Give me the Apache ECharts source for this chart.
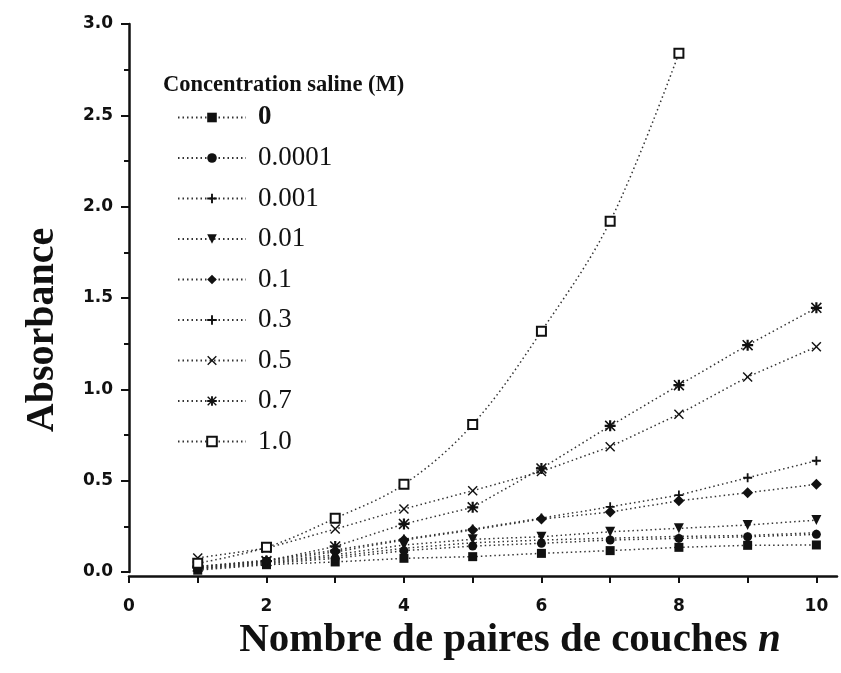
<!DOCTYPE html>
<html>
<head>
<meta charset="utf-8">
<script src="https://cdn.jsdelivr.net/npm/echarts@6/dist/echarts.min.js"></script>
<style>
  html, body { margin: 0; padding: 0; background: #fff; }
  #chart { width: 841px; height: 673px; }
</style>
</head>
<body>
<div id="chart"></div>
<script>
// Number of layer pairs
const layers = [1, 2, 3, 4, 5, 6, 7, 8, 9, 10];

// Salt concentration labels (M)
const concentrations = ['0', '0.0001', '0.001', '0.01', '0.1', '0.3', '0.5', '0.7', '1.0'];

// Absorbance for each salt concentration
const abs0      = [0.010, 0.040, 0.055, 0.075, 0.084, 0.102, 0.117, 0.135, 0.146, 0.148];
const abs00001  = [0.015, 0.045, 0.075, 0.117, 0.142, 0.157, 0.175, 0.184, 0.193, 0.206];
const abs0001   = [0.020, 0.050, 0.085, 0.130, 0.160, 0.175, 0.185, 0.195, 0.200, 0.215];
const abs001    = [0.020, 0.055, 0.095, 0.148, 0.179, 0.193, 0.220, 0.239, 0.257, 0.284];
const abs01     = [0.025, 0.060, 0.110, 0.175, 0.230, 0.290, 0.328, 0.390, 0.434, 0.480];
const abs03     = [0.030, 0.065, 0.120, 0.180, 0.235, 0.295, 0.357, 0.421, 0.516, 0.609];
const abs05     = [0.077, 0.130, 0.235, 0.345, 0.445, 0.550, 0.686, 0.864, 1.068, 1.233];
const abs07     = [0.030, 0.060, 0.140, 0.263, 0.354, 0.567, 0.800, 1.023, 1.242, 1.446];
const abs10     = [0.048, 0.135, 0.294, 0.480, 0.808, 1.318, 1.920, 2.840];

// Axis tick values
const xTickValues  = [0, 1, 2, 3, 4, 5, 6, 7, 8, 9, 10];
const xLabelValues = [0, 2, 4, 6, 8, 10];

// Marker shapes
const plusPath  = 'path://M4,0 H6 V4 H10 V6 H6 V10 H4 V6 H0 V4 H4 Z';
const crossPath = 'path://M0,1 L1,0 L5,4 L9,0 L10,1 L6,5 L10,9 L9,10 L5,6 L1,10 L0,9 L4,5 Z';
const starPath  = 'path://M4,0 H6 V4 H10 V6 H6 V10 H4 V6 H0 V4 H4 Z M0,1 L1,0 L5,4 L9,0 L10,1 L6,5 L10,9 L9,10 L5,6 L1,10 L0,9 L4,5 Z';

const seriesDefs = [
  { name: concentrations[0], data: abs0,     symbol: 'rect',     size: 9 },
  { name: concentrations[1], data: abs00001, symbol: 'circle',   size: 9 },
  { name: concentrations[2], data: abs0001,  symbol: plusPath,   size: 6 },
  { name: concentrations[3], data: abs001,   symbol: 'triangle', size: 10, rotate: 180 },
  { name: concentrations[4], data: abs01,    symbol: 'diamond',  size: 11 },
  { name: concentrations[5], data: abs03,    symbol: plusPath,   size: 9 },
  { name: concentrations[6], data: abs05,    symbol: crossPath,  size: 10 },
  { name: concentrations[7], data: abs07,    symbol: starPath,   size: 11 },
  { name: concentrations[8], data: abs10,    symbol: 'emptyRect', size: 9, smooth: true }
];

const ink = '#111';
const tickFont = 'DejaVu Sans';
const serif = '"Liberation Serif", "Times New Roman", serif';

const series = seriesDefs.map(d => ({
  name: d.name,
  type: 'line',
  data: d.data.map((v, i) => [layers[i], v]),
  symbol: d.symbol,
  symbolSize: d.size,
  symbolRotate: d.rotate || 0,
  smooth: d.smooth ? 0.35 : false,
  showAllSymbol: true,
  color: ink,
  itemStyle: d.symbol === 'emptyRect'
    ? { color: ink, borderColor: ink, borderWidth: 1.8 }
    : { color: ink },
  lineStyle: { color: '#333', width: 1.5, type: [1.5, 3] },
  emphasis: { disabled: true },
  z: 3
}));

const chart = echarts.init(document.getElementById('chart'), null, { renderer: 'canvas' });

chart.setOption({
  backgroundColor: '#fff',
  animation: false,
  grid: { left: 129, right: 4, top: 24, bottom: 101, containLabel: false },
  xAxis: {
    type: 'value',
    min: 0,
    max: 10.3,
    offset: 4,
    axisLine: { show: true, onZero: false, lineStyle: { color: ink, width: 2.5 } },
    axisTick: { show: true, customValues: xTickValues, length: 7, lineStyle: { color: ink, width: 2 } },
    axisLabel: {
      customValues: xLabelValues,
      margin: 22,
      color: ink,
      fontFamily: tickFont,
      fontWeight: 'bold',
      fontSize: 17
    },
    splitLine: { show: false }
  },
  yAxis: {
    type: 'value',
    min: 0,
    max: 3,
    interval: 0.5,
    axisLine: { show: true, lineStyle: { color: ink, width: 2.5 } },
    axisTick: { show: true, length: 8, lineStyle: { color: ink, width: 2 } },
    minorTick: { show: true, splitNumber: 2, length: 5, lineStyle: { color: ink, width: 2 } },
    axisLabel: {
      margin: 16,
      color: ink,
      fontFamily: tickFont,
      fontWeight: 'bold',
      fontSize: 17,
      formatter: v => v.toFixed(1)
    },
    splitLine: { show: false },
    minorSplitLine: { show: false }
  },
  legend: {
    orient: 'vertical',
    left: 172,
    top: 99,
    itemWidth: 68,
    itemHeight: 12,
    itemGap: 13.5,
    selectedMode: false,
    data: concentrations,
    textStyle: {
      fontFamily: serif,
      fontSize: 27,
      color: ink,
      padding: [0, 0, 0, 7],
      rich: { b: { fontFamily: serif, fontSize: 27, fontWeight: 'bold', color: ink } }
    },
    formatter: name => name === '0' ? '{b|0}' : name
  },
  graphic: [
    {
      type: 'text',
      left: 163,
      top: 74,
      style: { text: 'Concentration saline (M)', font: 'bold 22.5px ' + serif, fill: ink }
    },
    {
      type: 'text',
      x: 43,
      y: 330,
      rotation: Math.PI / 2,
      style: { text: 'Absorbance', font: 'bold 40px ' + serif, fill: ink, align: 'center', verticalAlign: 'middle' }
    },
    {
      type: 'text',
      x: 510,
      y: 640,
      style: {
        text: 'Nombre de paires de couches {i|n}',
        font: 'bold 41px ' + serif,
        fill: ink,
        align: 'center',
        verticalAlign: 'middle',
        rich: { i: { font: 'italic bold 41px ' + serif, fill: ink } }
      }
    }
  ],
  series: series
});
</script>
</body>
</html>
